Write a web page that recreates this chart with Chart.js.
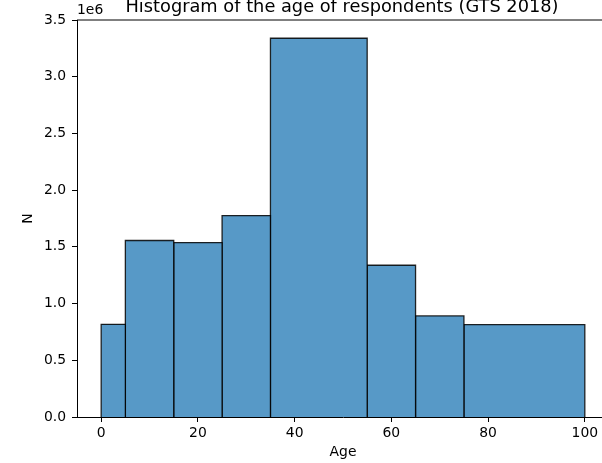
<!DOCTYPE html>
<html>
<head>
<meta charset="utf-8">
<script src="https://cdn.jsdelivr.net/npm/chart.js@4/dist/chart.umd.min.js"></script>
<style>
  html, body { margin: 0; padding: 0; background: #fff; overflow: hidden; }
  #wrap { position: absolute; left: 0; top: 0; }
</style>
</head>
<body>
<div id="wrap"><canvas id="hist" width="620" height="463"></canvas></div>
<script>
// age bins (edges) and respondent counts per bin
const binEdges = [0, 5, 15, 25, 35, 55, 65, 75, 100];
const counts = [817000, 1556000, 1538000, 1776000, 3339000, 1338000, 891000, 815000];

const xTicks = [0, 20, 40, 60, 80, 100];
const yTicks = [0, 500000, 1000000, 1500000, 2000000, 2500000, 3000000, 3500000];

const chartTitle = 'Histogram of the age of respondents (GTS 2018)';
const xLabel = 'Age';
const yLabel = 'N';
const offsetText = '1e6';

const FONT = '"DejaVu Sans", sans-serif';
const BAR_FILL = '#5799c7';
const BAR_EDGE = 'rgba(0, 0, 0, 0.85)';

// one outlined polygon per bin so every bin keeps its own width
const datasets = counts.map((n, i) => ({
  data: [
    { x: binEdges[i], y: 0 },
    { x: binEdges[i], y: n },
    { x: binEdges[i + 1], y: n },
    { x: binEdges[i + 1], y: 0 },
  ],
  showLine: true,
  fill: 'origin',
  backgroundColor: BAR_FILL,
  borderColor: BAR_EDGE,
  borderWidth: 1.3,
  pointRadius: 0,
  tension: 0,
}));

const decorations = {
  id: 'decorations',
  afterDraw(chart) {
    const { ctx, chartArea } = chart;
    ctx.save();
    // top spine
    ctx.strokeStyle = '#000';
    ctx.lineWidth = 1;
    ctx.beginPath();
    ctx.moveTo(chartArea.left, chartArea.top);
    ctx.lineTo(chartArea.right, chartArea.top);
    ctx.stroke();

    ctx.fillStyle = '#000';
    ctx.textBaseline = 'alphabetic';
    ctx.font = `17.8px ${FONT}`;
    ctx.textAlign = 'center';
    ctx.fillText(chartTitle, (chartArea.left + chartArea.right) / 2 - 1, 12);

    ctx.font = `13.9px ${FONT}`;
    ctx.textAlign = 'left';
    ctx.fillText(offsetText, chartArea.left, 14);
    ctx.restore();
  },
};

const axisGrid = {
  display: true,
  drawOnChartArea: false,
  drawTicks: true,
  tickLength: 5,
  tickWidth: 1,
  tickColor: '#000',
};

new Chart(document.getElementById('hist').getContext('2d'), {
  type: 'scatter',
  data: { datasets },
  options: {
    animation: false,
    responsive: false,
    devicePixelRatio: 1,
    layout: { padding: { top: 20, right: 11, bottom: 0, left: 0 } },
    scales: {
      x: {
        type: 'linear',
        min: -5,
        max: 105,
        afterBuildTicks: (scale) => { scale.ticks = xTicks.map((v) => ({ value: v })); },
        afterFit: (scale) => { scale.height = 46; },
        ticks: {
          color: '#000',
          padding: 3,
          font: { family: FONT, size: 13.9 },
          callback: (v) => String(v),
        },
        grid: axisGrid,
        border: { display: true, color: '#000', width: 1 },
        title: {
          display: true,
          text: xLabel,
          color: '#000',
          padding: { top: 0, bottom: 2 },
          font: { family: FONT, size: 13.9 },
        },
      },
      y: {
        type: 'linear',
        min: 0,
        max: 3500000,
        afterBuildTicks: (scale) => { scale.ticks = yTicks.map((v) => ({ value: v })); },
        afterFit: (scale) => { scale.width = 77; },
        ticks: {
          color: '#000',
          padding: 6,
          font: { family: FONT, size: 13.9 },
          callback: (v) => (v / 1e6).toFixed(1),
        },
        grid: axisGrid,
        border: { display: true, color: '#000', width: 1 },
        title: {
          display: true,
          text: yLabel,
          color: '#000',
          padding: { top: 20, bottom: 0 },
          font: { family: FONT, size: 13.9 },
        },
      },
    },
    plugins: {
      legend: { display: false },
      tooltip: { enabled: false },
    },
  },
  plugins: [decorations],
});
</script>
</body>
</html>
